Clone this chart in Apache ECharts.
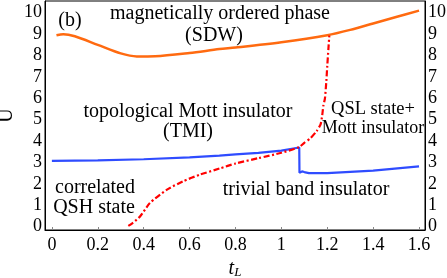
<!DOCTYPE html>
<html><head><meta charset="utf-8">
<script src="https://cdn.jsdelivr.net/npm/echarts@6/dist/echarts.min.js"></script>
<style>html,body{margin:0;padding:0;background:#fff}#c{width:447px;height:278px}</style>
</head><body><div id="c"></div>
<script>
var xTicks = [0, 0.2, 0.4, 0.6, 0.8, 1, 1.2, 1.4, 1.6];
var yTicks = [0, 1, 2, 3, 4, 5, 6, 7, 8, 9, 10];
// SDW boundary (orange)
var sdwT = [0.02, 0.05, 0.1, 0.2, 0.3, 0.37, 0.45, 0.6, 0.73, 0.8, 1.0, 1.2, 1.3, 1.4, 1.5, 1.6];
var sdwU = [8.95, 9.0, 8.9, 8.5, 8.1, 7.96, 7.97, 8.12, 8.3, 8.37, 8.62, 8.95, 9.2, 9.5, 9.8, 10.1];
// TMI / band-insulator boundary (blue)
var tmiT = [0, 0.2, 0.4, 0.6, 0.73, 0.8, 0.9, 1.0, 1.078, 1.079, 1.09, 1.1, 1.12, 1.2, 1.4, 1.6];
var tmiU = [3.07, 3.1, 3.15, 3.24, 3.32, 3.38, 3.45, 3.55, 3.7, 2.52, 2.58, 2.55, 2.5, 2.5, 2.62, 2.82];
// correlated QSH / QSL boundary (red dash-dot)
var qshT = [0.333, 0.35, 0.384, 0.427, 0.5, 0.572, 0.645, 0.732, 0.8, 0.9, 1.0, 1.078, 1.1, 1.125, 1.154, 1.171, 1.178, 1.183, 1.19, 1.196, 1.2, 1.205, 1.209];
var qshU = [0.03, 0.15, 0.47, 1.1, 1.72, 2.12, 2.43, 2.72, 2.95, 3.2, 3.45, 3.72, 3.92, 4.11, 4.47, 4.78, 5.2, 5.65, 6.0, 6.8, 7.5, 8.3, 8.93];

function zip(a, b) { return a.map(function (v, i) { return [v, b[i]]; }); }
var FONT = '"Liberation Serif", "Times New Roman", serif';
var chart = echarts.init(document.getElementById('c'), null, {renderer: 'canvas'});
var axisTxt = {fontFamily: FONT, fontSize: 18, color: '#000'};
function yAx(pos, name) {
  return {
    type: 'value', position: pos, min: -0.16, max: 10.55,
    name: name, nameLocation: 'middle', nameGap: 28, nameRotate: 90, nameMoveOverlap: false,
    nameTextStyle: {fontFamily: FONT, fontSize: 20, color: '#000'},
    axisLine: {show: true, onZero: false, lineStyle: {color: '#000', width: 1}},
    axisTick: {show: false},
    splitLine: {show: false},
    axisLabel: Object.assign({margin: 3, customValues: yTicks, showMinLabel: true, showMaxLabel: true}, axisTxt)
  };
}
var ann = [
  ['(b)', 70, 21, 20],
  ['magnetically ordered phase', 220, 14, 20],
  ['(SDW)', 214, 36, 20],
  ['topological Mott insulator', 188, 112, 20],
  ['(TMI)', 188, 132, 20],
  ['QSL state+', 373, 109, 18.5],
  ['Mott insulator', 373, 128, 18],
  ['correlated', 95, 188, 20],
  ['QSH state', 94, 208, 20],
  ['trivial band insulator', 306, 190, 20]
];
chart.setOption({
  animation: false,
  grid: {left: 45, right: 22, top: 1, bottom: 48, show: true, borderColor: '#000', borderWidth: 1, containLabel: false, outerBoundsMode: 'none'},
  xAxis: [{
    type: 'value', min: -0.03, max: 1.626, position: 'bottom',
    name: '{i|t}{s|L}', nameLocation: 'middle', nameGap: 26,
    nameTextStyle: {rich: {
      i: {fontFamily: FONT, fontStyle: 'italic', fontSize: 20, color: '#000'},
      s: {fontFamily: FONT, fontStyle: 'italic', fontSize: 13, color: '#000', verticalAlign: 'bottom', padding: [8, 0, 0, 0]}
    }},
    axisLine: {show: true, onZero: false, lineStyle: {color: '#000', width: 1}},
    axisTick: {show: true, inside: true, length: 3, customValues: xTicks, lineStyle: {color: '#888'}},
    splitLine: {show: false},
    axisLabel: Object.assign({margin: 6, customValues: xTicks, showMinLabel: true, showMaxLabel: true}, axisTxt)
  }],
  yAxis: [yAx('left', 'U'), yAx('right', '')],
  graphic: ann.map(function (a) {
    return {type: 'text', z: 50,
      style: {text: a[0], x: a[1], y: a[2], textAlign: 'center', textVerticalAlign: 'middle',
        font: a[3] + 'px ' + FONT, fill: '#000'}};
  }),
  series: [
    {type: 'line', data: zip(sdwT, sdwU), smooth: 0.3, showSymbol: false, lineStyle: {color: '#ff6a10', width: 2.5}, z: 3},
    {type: 'line', data: zip(tmiT, tmiU), smooth: false, showSymbol: false, lineStyle: {color: '#2f4cff', width: 2.2}, z: 4},
    {type: 'line', data: zip(qshT, qshU), smooth: 0.2, showSymbol: false, lineStyle: {color: '#ff0000', width: 2.2, type: [6, 2.5, 2, 2.5]}, z: 5}
  ]
});
</script></body></html>
